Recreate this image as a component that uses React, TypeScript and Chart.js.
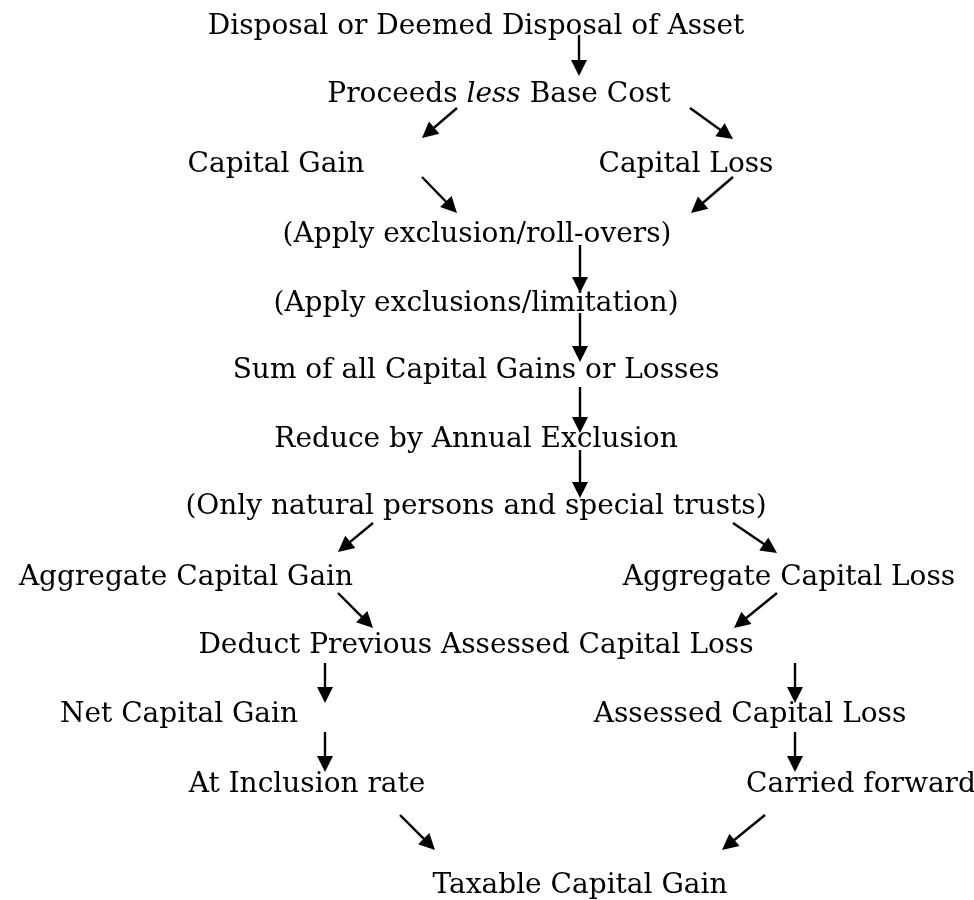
import React, { useEffect, useRef } from "react";
import { Chart, registerables } from "chart.js";

Chart.register(...registerables);

// Flowchart nodes: label (text between * is italic), centre x, baseline y
const nodeLabels = [
  "Disposal or Deemed Disposal of Asset",
  "Proceeds *less* Base Cost",
  "Capital Gain",
  "Capital Loss",
  "(Apply exclusion/roll-overs)",
  "(Apply exclusions/limitation)",
  "Sum of all Capital Gains or Losses",
  "Reduce by Annual Exclusion",
  "(Only natural persons and special trusts)",
  "Aggregate Capital Gain",
  "Aggregate Capital Loss",
  "Deduct Previous Assessed Capital Loss",
  "Net Capital Gain",
  "Assessed Capital Loss",
  "At Inclusion rate",
  "Carried forward",
  "Taxable Capital Gain",
];
const nodeX = [476, 499, 276, 686, 477, 476, 476, 476, 476, 186, 789, 476, 179, 750, 307, 861, 580];
const nodeY = [34, 102, 172, 172, 242, 311, 378, 447, 514, 585, 585, 653, 722, 722, 792, 792, 893];

// Arrows: start point and tip point
const arrowFromX = [579, 457, 690, 422, 733, 580, 580, 580, 580, 373, 733, 338, 777, 325, 795, 325, 795, 400, 765];
const arrowFromY = [35, 108, 108, 177, 177, 245, 313, 387, 450, 523, 523, 593, 593, 663, 663, 732, 732, 815, 815];
const arrowToX = [579, 422, 733, 457, 691, 580, 580, 580, 580, 338, 777, 373, 734, 325, 795, 325, 795, 435, 722];
const arrowToY = [76, 138, 139, 213, 213, 293, 362, 433, 498, 552, 553, 628, 628, 703, 703, 772, 772, 850, 850];

const FONT_FAMILY = '"DejaVu Serif", serif';
const FONT_SIZE = 28;

const flowPlugin = {
  id: "flowPlugin",
  afterDatasetsDraw(chart: any) {
    const { ctx, scales } = chart;
    const xs = scales.x;
    const ys = scales.y;
    ctx.save();
    ctx.fillStyle = "#000";
    ctx.strokeStyle = "#000";
    // arrows
    for (let i = 0; i < arrowFromX.length; i++) {
      const x1 = xs.getPixelForValue(arrowFromX[i]);
      const y1 = ys.getPixelForValue(arrowFromY[i]);
      const x2 = xs.getPixelForValue(arrowToX[i]);
      const y2 = ys.getPixelForValue(arrowToY[i]);
      const ang = Math.atan2(y2 - y1, x2 - x1);
      const headLen = 16;
      const headHalf = 8;
      const bx = x2 - headLen * Math.cos(ang);
      const by = y2 - headLen * Math.sin(ang);
      ctx.lineWidth = 2.4;
      ctx.beginPath();
      ctx.moveTo(x1, y1);
      ctx.lineTo(bx + Math.cos(ang), by + Math.sin(ang));
      ctx.stroke();
      ctx.beginPath();
      ctx.moveTo(x2, y2);
      ctx.lineTo(bx + headHalf * Math.sin(ang), by - headHalf * Math.cos(ang));
      ctx.lineTo(bx - headHalf * Math.sin(ang), by + headHalf * Math.cos(ang));
      ctx.closePath();
      ctx.fill();
    }
    // labels
    ctx.textBaseline = "alphabetic";
    ctx.textAlign = "left";
    for (let i = 0; i < nodeLabels.length; i++) {
      const parts = nodeLabels[i].split("*");
      const fonts = parts.map((_, k) =>
        (k % 2 === 1 ? "italic " : "") + FONT_SIZE + "px " + FONT_FAMILY
      );
      let total = 0;
      const widths = parts.map((p, k) => {
        ctx.font = fonts[k];
        const w = ctx.measureText(p).width;
        total += w;
        return w;
      });
      let x = xs.getPixelForValue(nodeX[i]) - total / 2;
      const y = ys.getPixelForValue(nodeY[i]);
      parts.forEach((p, k) => {
        ctx.font = fonts[k];
        ctx.fillText(p, x, y);
        x += widths[k];
      });
    }
    ctx.restore();
  },
};

export default function App() {
  const canvasRef = useRef<HTMLCanvasElement | null>(null);
  useEffect(() => {
    document.body.style.margin = "0";
    const canvas = canvasRef.current;
    if (!canvas) return;
    const chart = new Chart(canvas, {
      type: "scatter",
      data: {
        datasets: [
          {
            label: "nodes",
            data: nodeX.map((x, i) => ({ x, y: nodeY[i] })),
            pointRadius: 0,
            showLine: false,
          },
        ],
      },
      options: {
        animation: false,
        responsive: false,
        layout: { padding: 0 },
        plugins: { legend: { display: false }, tooltip: { enabled: false } },
        scales: {
          x: { type: "linear", min: 0, max: 974, display: false },
          y: { type: "linear", min: 0, max: 900, reverse: true, display: false },
        },
      },
      plugins: [flowPlugin],
    });
    return () => chart.destroy();
  }, []);
  return (
    <div style={{ position: "fixed", left: 0, top: 0, width: 974, height: 900, background: "#fff" }}>
      <canvas ref={canvasRef} width={974} height={900} style={{ display: "block" }} />
    </div>
  );
}
